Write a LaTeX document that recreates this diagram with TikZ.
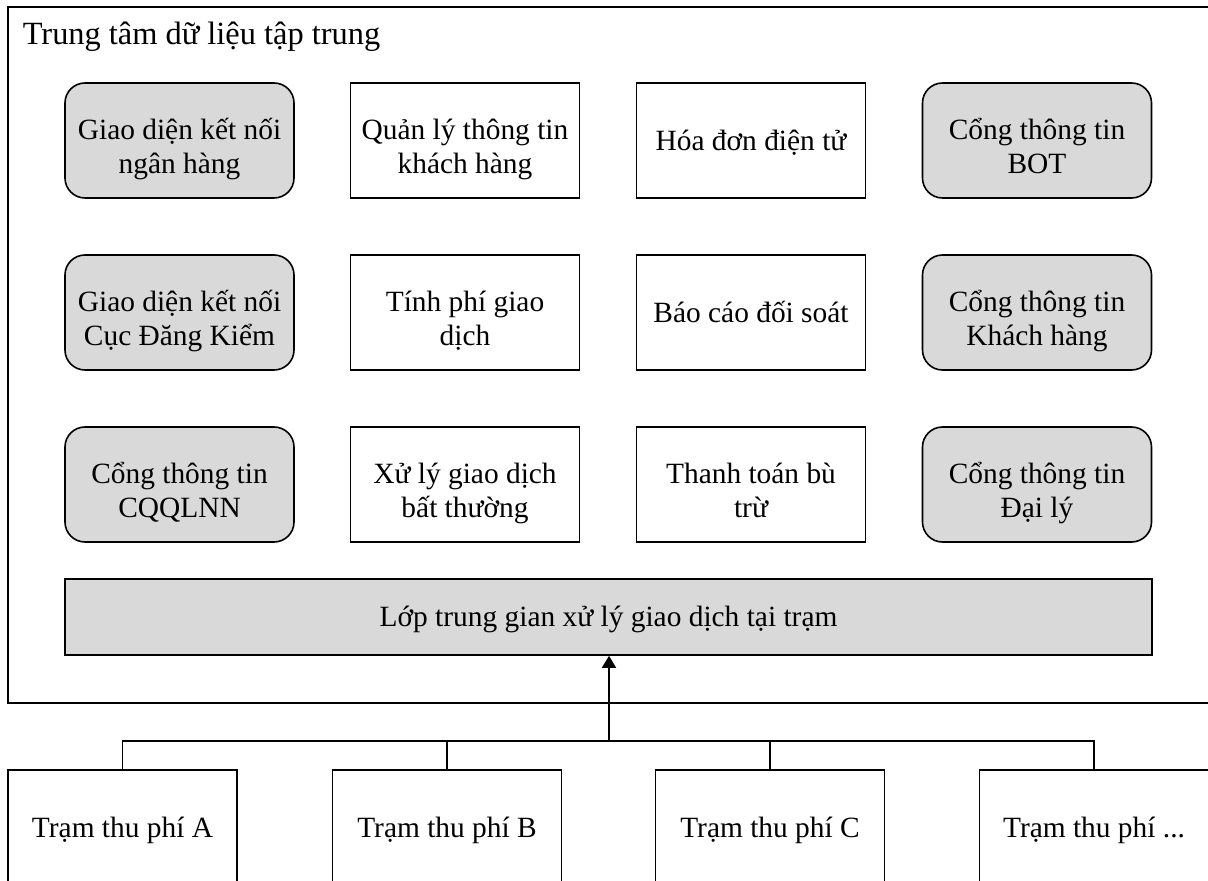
\documentclass[tikz,border=0pt]{standalone}
\usepackage{fontspec}
\setmainfont{Liberation Serif}
\usepackage{xcolor}
\definecolor{BoxGray}{HTML}{D9D9D9}
\usepackage{tikz}
\usetikzlibrary{positioning,calc,arrows.meta}
% fixed line struts, so that every box centres its text the same way
\newcommand{\oneline}[1]{\rule[-3.2pt]{0pt}{16.3pt}\smash{#1}}
\newcommand{\twoline}[2]{\rule{0pt}{19pt}\smash{#1}\\\smash{#2}\rule[-3.2pt]{0pt}{3.2pt}}

\begin{document}
\begin{tikzpicture}[x=0.5pt,y=-0.5pt,line width=0.8pt,
 font=\fontsize{14.7}{17}\selectfont,
 modbox/.style={rectangle,draw,fill=white,align=center,minimum width=114.5pt,minimum height=57.5pt,inner sep=0pt},
 portbox/.style={modbox,rounded corners=10pt,fill=BoxGray},
 station/.style={modbox,anchor=north}]
\clip (0,0) rectangle (1208,881);
% khung trung tam du lieu
\draw (8,7) rectangle (1230,703);
\node[anchor=base west,inner sep=0pt,font=\fontsize{16.2}{19}\selectfont] (title) at (22,45) {Trung tâm dữ liệu tập trung};
% hang 1
\node[portbox] (bank) at (179.5,140.5) {\twoline{Giao diện kết nối}{ngân hàng}};
\node[modbox] (cust) at (465,140.5) {\twoline{Quản lý thông tin}{khách hàng}};
\node[modbox] (invoice) at (751,140.5) {\oneline{Hóa đơn điện tử}};
\node[portbox] (bot) at (1037,140.5) {\twoline{Cổng thông tin}{BOT}};
% hang 2
\node[portbox] (reg) at (179.5,312.5) {\twoline{Giao diện kết nối}{Cục Đăng Kiểm}};
\node[modbox] (fee) at (465,312.5) {\twoline{Tính phí giao}{dịch}};
\node[modbox] (report) at (751,312.5) {\oneline{Báo cáo đối soát}};
\node[portbox] (custport) at (1037,312.5) {\twoline{Cổng thông tin}{Khách hàng}};
% hang 3
\node[portbox] (gov) at (179.5,484.5) {\twoline{Cổng thông tin}{CQQLNN}};
\node[modbox] (abnorm) at (465,484.5) {\twoline{Xử lý giao dịch}{bất thường}};
\node[modbox] (clear) at (751,484.5) {\twoline{Thanh toán bù}{trừ}};
\node[portbox] (agent) at (1037,484.5) {\twoline{Cổng thông tin}{Đại lý}};
% lop trung gian
\node[modbox,fill=BoxGray,minimum width=543.5pt,minimum height=38pt] (layer) at (608.5,617) {\oneline{Lớp trung gian xử lý giao dịch tại trạm}};
% cac tram
\node[station] (stA) at (122.5,769) {\oneline{Trạm thu phí A}};
\node[station] (stB) at (447,769) {\oneline{Trạm thu phí B}};
\node[station] (stC) at (770,769) {\oneline{Trạm thu phí C}};
\node[station] (stD) at (1094,769) {\oneline{Trạm thu phí ...}};
\coordinate (bus) at (609,741);
\draw (stA.north) |- (bus) -| (stD.north);
\draw (stB.north) |- (bus);
\draw (stC.north) |- (bus);
\draw[-{Triangle[length=6pt,width=7pt]}] (bus) -- (bus |- layer.south);
\end{tikzpicture}
\end{document}
